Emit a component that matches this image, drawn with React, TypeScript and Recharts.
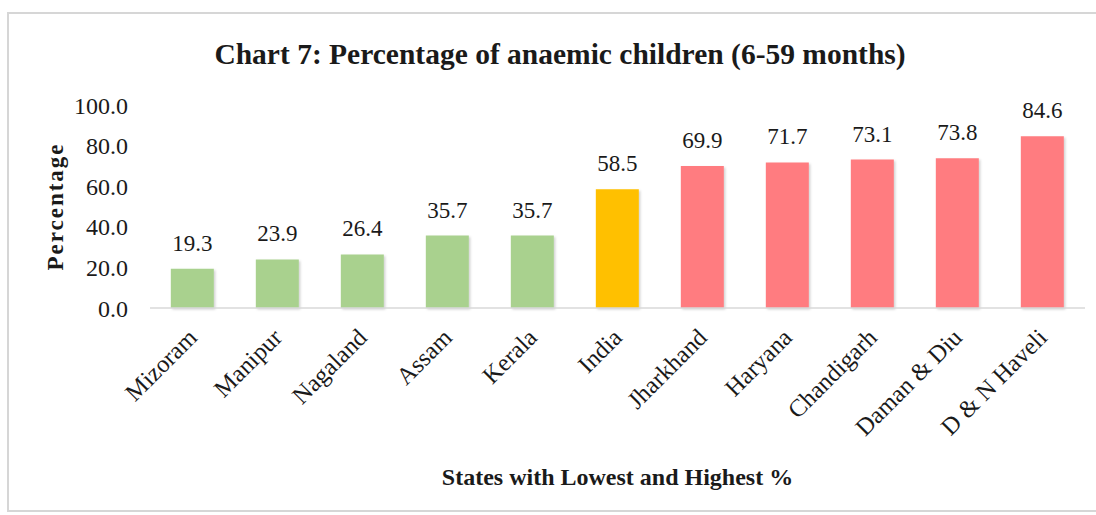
import React from 'react';
import { BarChart, Bar, XAxis, YAxis, Cell, LabelList, Label } from 'recharts';

const categories = ['Mizoram', 'Manipur', 'Nagaland', 'Assam', 'Kerala', 'India', 'Jharkhand', 'Haryana', 'Chandigarh', 'Daman & Diu', 'D & N Haveli'];
const values = [19.3, 23.9, 26.4, 35.7, 35.7, 58.5, 69.9, 71.7, 73.1, 73.8, 84.6];
const groups = ['low', 'low', 'low', 'low', 'low', 'india', 'high', 'high', 'high', 'high', 'high'];
const yTicks = [0, 20, 40, 60, 80, 100];
const chartTitle = 'Chart 7: Percentage of anaemic children (6-59 months)';
const xTitle = 'States with Lowest and Highest %';
const yTitle = 'Percentage';
const groupColors: Record<string, string> = { low: '#A9D18E', india: '#FFC000', high: '#FF7C80' };

const data = categories.map((name, i) => ({ name, value: values[i], group: groups[i] }));

const FONT = '"Liberation Serif", "Times New Roman", serif';
const TEXT = '#1a1a1a';

function XTick(props: any) {
  const { x, y, payload } = props;
  return (
    <g transform={`translate(${x + 6},${y + 23}) rotate(-45)`}>
      <text x={0} y={0} textAnchor="end" fontFamily={FONT} fontSize={24.5} fill={TEXT}>
        {payload.value}
      </text>
    </g>
  );
}

export default function App() {
  return (
    <div style={{ position: 'absolute', left: 0, top: 0, width: 1096, height: 515, background: '#fff', fontFamily: FONT }}>
      <div style={{ position: 'absolute', left: 7, top: 12, width: 1100, height: 500, border: '2px solid #d6d6d6', boxSizing: 'border-box' }} />
      <div style={{ position: 'absolute', left: 0, top: 38, width: 1120, textAlign: 'center', fontFamily: FONT, fontWeight: 'bold', fontSize: 29.5, color: TEXT }}>
        {chartTitle}
      </div>
      <div style={{ position: 'absolute', left: 0, top: 0 }}>
        <BarChart width={1096} height={515} data={data} margin={{ top: 105, right: 11, bottom: 30, left: 40 }} barCategoryGap="24.5%">
          <defs>
            <filter id="barShadow" x="-20%" y="-20%" width="140%" height="140%">
              <feDropShadow dx="1.5" dy="1.5" stdDeviation="1.2" floodColor="#000" floodOpacity="0.18" />
            </filter>
          </defs>
          <XAxis
            dataKey="name"
            interval={0}
            height={177}
            tick={<XTick />}
            tickLine={false}
            axisLine={{ stroke: '#d9d9d9', strokeWidth: 1.5 }}
          >
            <Label value={xTitle} position="insideBottom" offset={0} fontFamily={FONT} fontWeight="bold" fontSize={24} fill={TEXT} />
          </XAxis>
          <YAxis
            domain={[0, 100]}
            ticks={yTicks}
            width={110}
            tickFormatter={(v: number) => v.toFixed(1)}
            tick={{ fontFamily: FONT, fontSize: 24, fill: TEXT }}
            tickLine={false}
            tickMargin={16}
            axisLine={false}
          >
            <Label value={yTitle} angle={-90} position="insideLeft" offset={15} fontFamily={FONT} fontWeight="bold" fontSize={23} letterSpacing={2} fill={TEXT} style={{ textAnchor: 'middle' }} />
          </YAxis>
          <Bar dataKey="value" isAnimationActive={false} filter="url(#barShadow)">
            {data.map((d, i) => (
              <Cell key={i} fill={groupColors[d.group]} />
            ))}
            <LabelList dataKey="value" position="top" offset={18} formatter={(v: any) => Number(v).toFixed(1)} fontFamily={FONT} fontSize={23} fill={TEXT} />
          </Bar>
        </BarChart>
      </div>
    </div>
  );
}
